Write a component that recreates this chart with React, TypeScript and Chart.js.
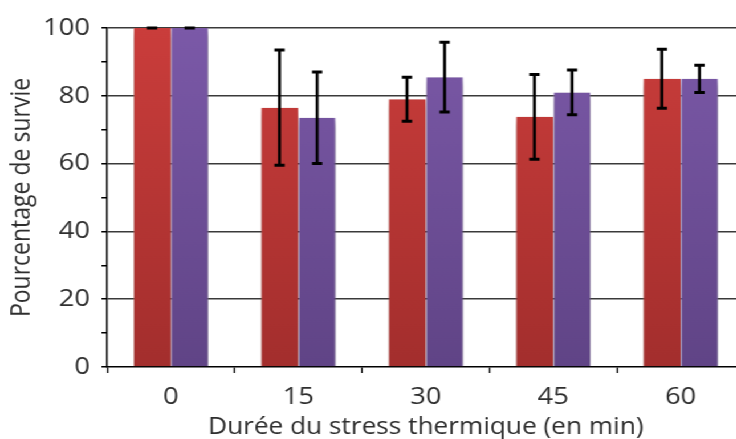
import React, { useEffect, useRef } from "react";
import { Chart, registerables } from "chart.js";

Chart.register(...registerables);

const categories = ["0", "15", "30", "45", "60"];
const seriesALabel = "Série A";
const seriesAValues = [100, 76.5, 79, 73.8, 85];
const seriesAErrors = [0, 17, 6.5, 12.5, 8.7];
const seriesBLabel = "Série B";
const seriesBValues = [100, 73.5, 85.5, 81, 85];
const seriesBErrors = [0, 13.5, 10.3, 6.6, 4];
const yTitle = "Pourcentage de survie";
const xTitle = "Durée du stress thermique (en min)";

const FONT = "'Open Sans', sans-serif";
const TEXT = "#2e2e2e";
const STRETCH = 1.14;
const CANVAS_W = 655;
const CANVAS_H = 439;

function gradient(chart: any, top: string, bottom: string) {
  const area = chart.chartArea;
  if (!area) return top;
  const g = chart.ctx.createLinearGradient(0, area.top, 0, area.bottom);
  g.addColorStop(0, top);
  g.addColorStop(1, bottom);
  return g;
}

const shadowPlugin = {
  id: "barShadow",
  beforeDatasetsDraw(chart: any) {
    const ctx = chart.ctx;
    ctx.save();
    ctx.shadowColor = "rgba(0,0,0,0.4)";
    ctx.shadowBlur = 8;
    ctx.shadowOffsetX = 1;
    ctx.shadowOffsetY = 4;
  },
  afterDatasetsDraw(chart: any) {
    chart.ctx.restore();
  },
};

const errorBarPlugin = {
  id: "errorBars",
  afterDatasetsDraw(chart: any) {
    const ctx = chart.ctx;
    const yScale = chart.scales.y;
    const errs = [seriesAErrors, seriesBErrors];
    ctx.save();
    ctx.strokeStyle = "#000";
    chart.data.datasets.forEach((ds: any, di: number) => {
      const meta = chart.getDatasetMeta(di);
      meta.data.forEach((bar: any, i: number) => {
        const v = ds.data[i];
        const e = errs[di][i];
        const x = bar.x;
        const yHi = yScale.getPixelForValue(v + e);
        const yLo = yScale.getPixelForValue(v - e);
        const cap = 4.5;
        if (e > 0) {
          ctx.lineWidth = 2.6;
          ctx.beginPath();
          ctx.moveTo(x, yHi);
          ctx.lineTo(x, yLo);
          ctx.stroke();
        }
        ctx.lineWidth = 3;
        ctx.beginPath();
        ctx.moveTo(x - cap, yHi);
        ctx.lineTo(x + cap, yHi);
        ctx.moveTo(x - cap, yLo);
        ctx.lineTo(x + cap, yLo);
        ctx.stroke();
      });
    });
    ctx.restore();
  },
};

export default function App() {
  const ref = useRef<HTMLCanvasElement | null>(null);
  useEffect(() => {
    if (!ref.current) return;
    const chart = new Chart(ref.current, {
      type: "bar",
      data: {
        labels: categories,
        datasets: [
          {
            label: seriesALabel,
            data: seriesAValues,
            backgroundColor: (c: any) => gradient(c.chart, "#ca3d3b", "#a32e2d"),
            borderColor: "rgba(230,120,115,0.6)",
            borderWidth: { left: 1, right: 0, top: 0, bottom: 0 },
            borderSkipped: false,
            categoryPercentage: 0.59,
            barPercentage: 1,
            clip: false,
          },
          {
            label: seriesBLabel,
            data: seriesBValues,
            backgroundColor: (c: any) => gradient(c.chart, "#7b59a8", "#604486"),
            borderColor: "rgba(170,145,210,0.7)",
            borderWidth: { left: 1, right: 1, top: 0, bottom: 0 },
            borderSkipped: false,
            categoryPercentage: 0.59,
            barPercentage: 1,
            clip: false,
          },
        ],
      },
      options: {
        animation: false,
        responsive: false,
        maintainAspectRatio: false,
        layout: { padding: { left: 0, right: 2, top: 28, bottom: 0 } },
        plugins: {
          legend: { display: false },
          tooltip: { enabled: false },
        },
        scales: {
          x: {
            offset: true,
            grid: {
              offset: true,
              drawOnChartArea: false,
              drawTicks: true,
              tickLength: 6,
              tickColor: "#000",
              tickWidth: 1.3,
            },
            border: { display: true, color: "#000", width: 1.5 },
            ticks: {
              color: TEXT,
              font: { family: FONT, size: 24 },
              padding: 10,
              maxRotation: 0,
            },
            title: {
              display: true,
              text: xTitle,
              color: TEXT,
              font: { family: FONT, size: 23, lineHeight: 1 },
              padding: { top: 0, bottom: 0 },
            },
            afterFit: (s: any) => {
              s.height = 72;
            },
          },
          y: {
            min: 0,
            max: 100,
            ticks: {
              stepSize: 10,
              color: TEXT,
              font: { family: FONT, size: 24 },
              padding: 10,
              callback: (v: any) => (Number(v) % 20 === 0 ? String(v) : ""),
            },
            grid: {
              color: (c: any) =>
                c.tick && c.tick.value % 20 === 0 && c.tick.value !== 0 ? "#3a3a3a" : "rgba(0,0,0,0)",
              lineWidth: 1.5,
              tickColor: "#000",
              tickLength: 5,
              tickWidth: 1.5,
            },
            border: { display: true, color: "#000", width: 1.4 },
            title: {
              display: true,
              text: yTitle,
              color: TEXT,
              font: { family: FONT, size: 23, lineHeight: 1 },
              padding: { top: 8, bottom: 0 },
            },
            afterFit: (s: any) => {
              s.width = 94;
            },
          },
        },
      },
      plugins: [shadowPlugin, errorBarPlugin],
    });
    return () => chart.destroy();
  }, []);
  return (
    <div
      style={{
        position: "fixed",
        left: 0,
        top: 0,
        width: CANVAS_W,
        height: CANVAS_H,
        background: "#fff",
        transform: `scaleX(${STRETCH})`,
        transformOrigin: "0 0",
      }}
    >
      <canvas
        ref={ref}
        width={CANVAS_W}
        height={CANVAS_H}
        style={{ width: CANVAS_W, height: CANVAS_H, display: "block" }}
      />
    </div>
  );
}
